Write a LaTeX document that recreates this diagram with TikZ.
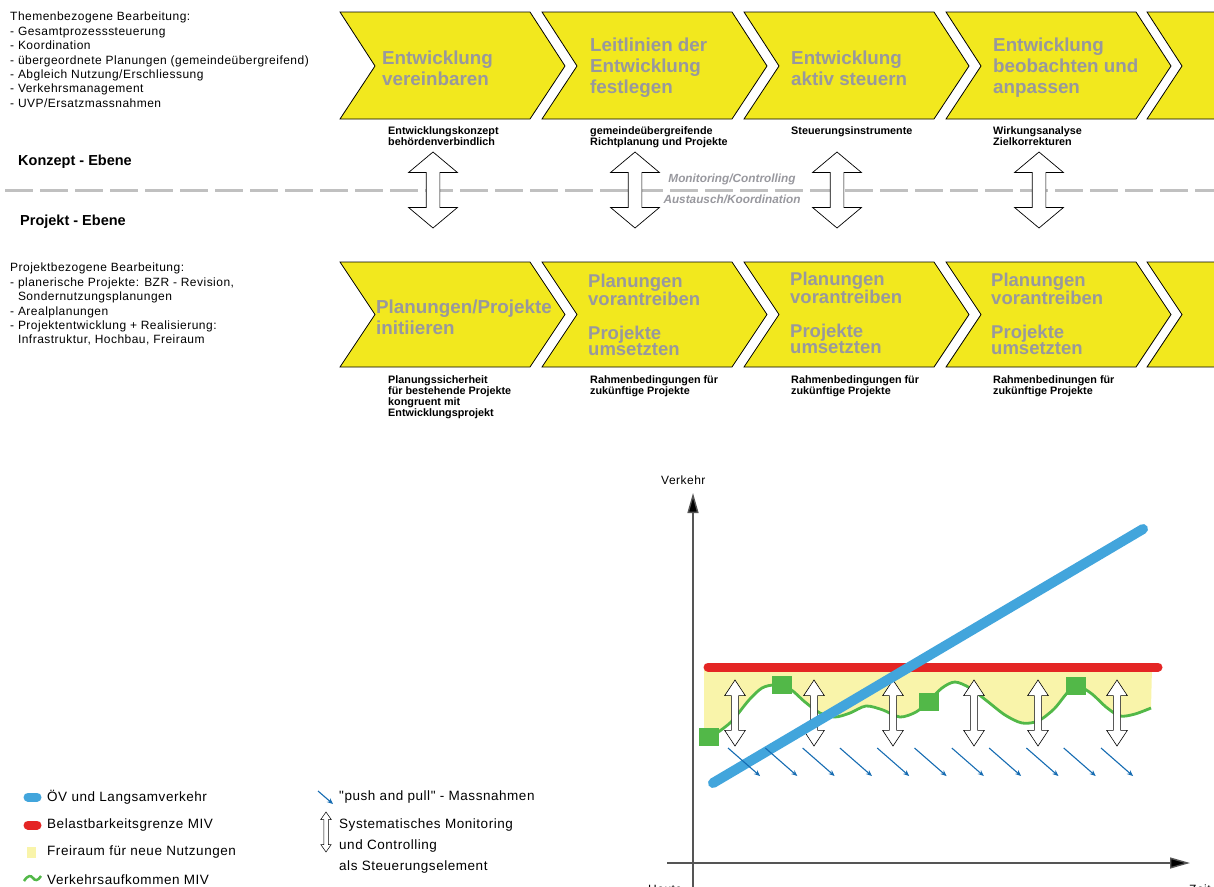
\documentclass[tikz,border=0pt]{standalone}
\usepackage{fontspec}
\setmainfont{Liberation Sans}
\newfontfamily\widefont[LetterSpace=4]{Liberation Sans}
\usetikzlibrary{shapes.arrows,arrows.meta}
\definecolor{chevyellow}{RGB}{242,232,30}
\definecolor{chevgrey}{RGB}{152,152,158}
\definecolor{dashgrey}{RGB}{192,192,192}
\definecolor{oevblue}{RGB}{66,165,220}
\definecolor{mivred}{RGB}{228,37,36}
\definecolor{mivgreen}{RGB}{82,184,72}
\definecolor{freiyellow}{RGB}{249,244,170}
\definecolor{pushblue}{RGB}{22,108,178}
\definecolor{axisgrey}{RGB}{85,85,85}
\begin{document}
\begin{tikzpicture}[x=1pt,y=-1pt,
    chev/.style={draw=black,line width=0.8pt,fill=chevyellow},
    chevtext/.style={anchor=west,align=left,inner sep=0,text=chevgrey,font=\bfseries\fontsize{18.8}{21}\selectfont},
    chevtwo/.style={chevtext,font=\bfseries\fontsize{18.5}{16.5}\selectfont},
    result/.style={anchor=north west,align=left,inner sep=0,font=\bfseries\fontsize{10.8}{11}\selectfont},
    info/.style={anchor=north west,align=left,inner sep=0,font=\widefont\fontsize{12}{14.4}\selectfont},
    level/.style={anchor=west,inner sep=0,font=\bfseries\fontsize{14.5}{17}\selectfont},
    ctrl/.style={inner sep=0,text=chevgrey,font=\bfseries\itshape\fontsize{11.8}{14}\selectfont},
    bigarrow/.style={double arrow,draw=black,fill=white,line width=0.7pt,rotate=90,
        inner xsep=0,inner ysep=6.5pt,minimum width=0pt,minimum height=76pt,
        double arrow head extend=17.5pt,double arrow tip angle=100},
    smallarrow/.style={bigarrow,line width=0.6pt,inner ysep=3.3pt,minimum height=66pt,
        double arrow head extend=6.7pt,double arrow tip angle=67},
    legendarrow/.style={bigarrow,line width=0.5pt,inner ysep=2pt,minimum height=40pt,
        double arrow head extend=3pt,double arrow tip angle=70},
    axis/.style={draw=axisgrey,line width=1.4pt,-{Triangle[length=20pt,width=11pt,fill=black]}},
    oev/.style={draw=oevblue,line width=10pt,line cap=round},
    grenze/.style={draw=mivred,line width=9pt,line cap=round},
    verkehr/.style={draw=mivgreen,line width=2.8pt},
    messpunkt/.style={fill=mivgreen,inner sep=0,minimum width=20pt,minimum height=18pt},
    push/.style={draw=pushblue,line width=1.1pt,-{Stealth[length=6pt,width=5pt]}},
    legend/.style={anchor=west,align=left,inner sep=0,font=\widefont\fontsize{13.5}{21}\selectfont},
    axislabel/.style={anchor=west,inner sep=0,font=\widefont\fontsize{12}{14}\selectfont}
]
\useasboundingbox (0,0) rectangle (1214,886);

% prozesskette oben und unten
\foreach \x in {340,542,744,946,1147} {
    \draw[chev] (\x,12) -- ++(190,0) -- ++(35,54) -- ++(-35,53) -- ++(-190,0) -- ++(35,-53) -- cycle;
    \draw[chev] (\x,262) -- ++(190,0) -- ++(35,52.5) -- ++(-35,52.5) -- ++(-190,0) -- ++(35,-52.5) -- cycle;
}
\node[chevtext] (vereinbaren) at (382,68) {Entwicklung\\vereinbaren};
\node[chevtext] (leitlinien) at (590,68) {Leitlinien der\\Entwicklung\\festlegen};
\node[chevtext] (steuern) at (791,68) {Entwicklung\\aktiv steuern};
\node[chevtext] (beobachten) at (993,68) {Entwicklung\\beobachten und\\anpassen};
\node[chevtext] (initiieren) at (376,317) {Planungen/Projekte\\initiieren};
\node[chevtwo] (umsetzen1) at (588,315) {Planungen\\vorantreiben\\[17pt]Projekte\\umsetzten};
\node[chevtwo] (umsetzen2) at (790,313) {Planungen\\vorantreiben\\[17pt]Projekte\\umsetzten};
\node[chevtwo] (umsetzen3) at (991,314) {Planungen\\vorantreiben\\[17pt]Projekte\\umsetzten};

\node[result] (konzept1) at (388,126) {Entwicklungskonzept\\behördenverbindlich};
\node[result] (konzept2) at (590,126) {gemeindeübergreifende\\Richtplanung und Projekte};
\node[result] (konzept3) at (791,126) {Steuerungsinstrumente};
\node[result] (konzept4) at (993,126) {Wirkungsanalyse\\Zielkorrekturen};
\node[result] (projekt1) at (388,375) {Planungssicherheit\\für bestehende Projekte\\kongruent mit\\Entwicklungsprojekt};
\node[result] (projekt2) at (590,375) {Rahmenbedingungen für\\zukünftige Projekte};
\node[result] (projekt3) at (791,375) {Rahmenbedingungen für\\zukünftige Projekte};
\node[result] (projekt4) at (993,375) {Rahmenbedinungen für\\zukünftige Projekte};

% ebenen
\node[info] (themen) at (10,12) {Themenbezogene Bearbeitung:\\- Gesamtprozesssteuerung\\- Koordination\\- übergeordnete Planungen (gemeindeübergreifend)\\- Abgleich Nutzung/Erschliessung\\- Verkehrsmanagement\\- UVP/Ersatzmassnahmen};
\node[level] (konzeptebene) at (18,162) {Konzept - Ebene};
\node[level] (projektebene) at (20,222) {Projekt - Ebene};
\node[info] (projektbezug) at (10,263) {Projektbezogene Bearbeitung:\\- planerische Projekte: BZR - Revision,\\\hphantom{-~}Sondernutzungsplanungen\\- Arealplanungen\\- Projektentwicklung + Realisierung:\\\hphantom{-~}Infrastruktur, Hochbau, Freiraum};

\draw[dashgrey,line width=3pt,dash pattern=on 28pt off 7pt] (5,190) -- (1214,190);
\node[ctrl] (monitoring) at (732,179) {Monitoring/Controlling};
\node[ctrl] (austausch) at (732,199) {Austausch/Koordination};
\foreach \x/\n in {433/a,635/b,837/c,1039/d}
    \node[bigarrow] (austausch\n) at (\x,190) {};

% diagramm
\coordinate (yunten) at (693,890);
\coordinate (yoben) at (693,493);
\coordinate (xlinks) at (667,863);
\coordinate (xrechts) at (1190,863);
\draw[axis] (yunten) -- (yoben);
\draw[axis] (xlinks) -- (xrechts);
\node[axislabel] (verkehrachse) at (661,480) {Verkehr};
\node[axislabel] (heute) at (648,889) {Heute};
\node[axislabel] (zeit) at (1189,889) {Zeit};

\fill[freiyellow] (704,667) -- (704,736) -- plot[smooth] coordinates {(714,735) (731,722) (749,700) (762,688) (775,685) (790,689) (805,702) (820,713) (835,717) (850,713) (866,706) (883,710) (900,717) (916,712) (928,702) (942,688) (955,682) (970,688) (987,701) (1005,715) (1022,723) (1038,721) (1054,709) (1068,692) (1078,686) (1092,694) (1106,707) (1120,716) (1135,714) (1151,708)} -- (1152,667) -- cycle;
\draw[verkehr] plot[smooth] coordinates {(714,735) (731,722) (749,700) (762,688) (775,685) (790,689) (805,702) (820,713) (835,717) (850,713) (866,706) (883,710) (900,717) (916,712) (928,702) (942,688) (955,682) (970,688) (987,701) (1005,715) (1022,723) (1038,721) (1054,709) (1068,692) (1078,686) (1092,694) (1106,707) (1120,716) (1135,714) (1151,708)};
\foreach \x [count=\i] in {735,814,893,974,1038,1117}
    \node[smallarrow] (kontrolle\i) at (\x,713) {};
\node[messpunkt] (punkt1) at (709,737) {};
\node[messpunkt] (punkt2) at (782,685) {};
\node[messpunkt] (punkt3) at (929,702) {};
\node[messpunkt] (punkt4) at (1076,686) {};
\draw[grenze] (708,667) -- (1158,667);
\draw[oev] (713,783) -- (1143,529);
\foreach \i in {0,...,10}
    \draw[push] (728+37.3*\i,748) -- ++(32,28);

% legende
\draw[oev,line width=9pt] (28,797) -- (37,797);
\draw[grenze] (28,825) -- (37,825);
\fill[freiyellow] (27,847) rectangle (36,858);
\draw[verkehr,line width=2.5pt] (24,881) .. controls (28,875) and (31,875) .. (33,878) .. controls (35,881) and (38,881) .. (41,876);
\node[legend] (legoev) at (47,797) {ÖV und Langsamverkehr};
\node[legend] (leggrenze) at (47,825) {Belastbarkeitsgrenze MIV};
\node[legend] (legfrei) at (47,852) {Freiraum für neue Nutzungen};
\node[legend] (legverkehr) at (47,880) {Verkehrsaufkommen MIV};
\draw[push] (318,791) -- (333,804);
\node[legend] (legpush) at (339,797) {"push and pull" - Massnahmen};
\node[legendarrow] (legpfeil) at (326,832) {};
\node[legend] (legmonitoring) at (339,846) {Systematisches Monitoring\\und Controlling\\als Steuerungselement};
\end{tikzpicture}
\end{document}
